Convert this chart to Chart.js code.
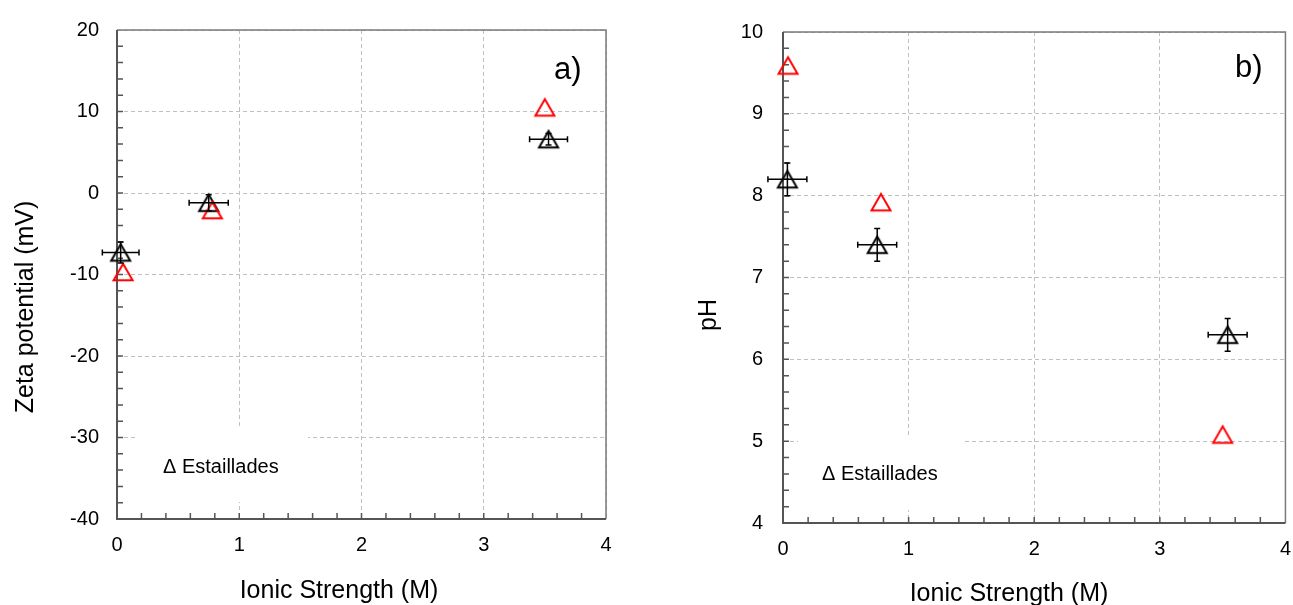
<!DOCTYPE html>
<html><head><meta charset="utf-8">
<script src="https://cdn.jsdelivr.net/npm/chart.js@4.4.0/dist/chart.umd.min.js"></script>
<style>
html,body{margin:0;padding:0;background:#fff;width:1293px;height:605px;overflow:hidden;}
#ca{position:absolute;left:0;top:0;}
#cb{position:absolute;left:650px;top:0;}
</style></head><body>
<canvas id="ca" width="650" height="605"></canvas>
<canvas id="cb" width="655" height="605"></canvas>
<script>
// ---- Data (a) Zeta potential vs ionic strength ----
const zetaBlackX    = [0.03, 0.75, 3.53];
const zetaBlackY    = [-7.3, -1.2, 6.6];
const zetaBlackXErr = [0.15, 0.16, 0.155];
const zetaBlackYErr = [1.3, 1.0, 0.7];
const zetaRedX      = [0.05, 0.78, 3.50];
const zetaRedY      = [-9.7, -2.1, 10.5];
// ---- Data (b) pH vs ionic strength ----
const phBlackX    = [0.035, 0.75, 3.54];
const phBlackY    = [8.2, 7.4, 6.3];
const phBlackXErr = [0.155, 0.155, 0.155];
const phBlackYErr = [0.2, 0.2, 0.2];
const phRedX      = [0.04, 0.78, 3.50];
const phRedY      = [9.59, 7.92, 5.08];
// ---- Axis ticks ----
const xTicksRange = [0, 4, 1];
const zetaTicksRange = [-40, 20, 10];
const phTicksRange = [4, 10, 1];
const legendText = "Δ Estaillades";

const FONT = '"Liberation Sans", Arial, sans-serif';

function triMarker(color){
  const s = 19, h = s*Math.sqrt(3)/2, lw = 2;
  const c = document.createElement('canvas');
  c.width = 26; c.height = 24;
  const g = c.getContext('2d');
  const cx = c.width/2, cy = c.height/2;
  g.strokeStyle = color; g.lineWidth = lw; g.lineJoin = 'miter';
  g.beginPath();
  g.moveTo(cx, cy - h/2);
  g.lineTo(cx + s/2, cy + h/2);
  g.lineTo(cx - s/2, cy + h/2);
  g.closePath(); g.stroke();
  return c;
}
const blackTri = triMarker('#000000');
const redTri = triMarker('#ff0000');

function pts(xs, ys){ return xs.map((x,i)=>({x:x, y:ys[i]})); }

const decorPlugin = {
  id: 'decor',
  beforeDatasetsDraw(chart, args, o){
    const ctx = chart.ctx, a = chart.chartArea;
    ctx.save();
    ctx.fillStyle = '#ffffff';
    ctx.fillRect(o.legend.x0, o.legend.y0, o.legend.x1 - o.legend.x0, o.legend.y1 - o.legend.y0);
    ctx.fillStyle = '#000';
    ctx.font = '20px ' + FONT;
    ctx.textBaseline = 'middle'; ctx.textAlign = 'left';
    ctx.fillText(legendText, o.legend.tx, o.legend.ty);
    ctx.lineWidth = 1.5; ctx.strokeStyle = '#7a7a7a';
    ctx.beginPath();
    ctx.moveTo(a.left, a.top); ctx.lineTo(a.right, a.top); ctx.lineTo(a.right, a.bottom);
    ctx.stroke();
    ctx.lineWidth = 2; ctx.strokeStyle = '#555555';
    ctx.beginPath();
    ctx.moveTo(a.left, a.top); ctx.lineTo(a.left, a.bottom); ctx.lineTo(a.right, a.bottom);
    ctx.stroke();
    const xs = chart.scales.x, ys = chart.scales.y;
    ctx.lineWidth = 1.5; ctx.strokeStyle = '#555555';
    ctx.beginPath();
    const nx = Math.round((xs.max - xs.min)/o.xMinor);
    for (let i = 1; i < nx; i++){
      const px = xs.getPixelForValue(xs.min + i*o.xMinor);
      ctx.moveTo(px, a.bottom); ctx.lineTo(px, a.bottom - 6);
    }
    const ny = Math.round((ys.max - ys.min)/o.yMinor);
    for (let i = 1; i < ny; i++){
      const py = ys.getPixelForValue(ys.min + i*o.yMinor);
      ctx.moveTo(a.left, py); ctx.lineTo(a.left + 6, py);
    }
    ctx.stroke();
    ctx.restore();
  },
  afterDatasetsDraw(chart, args, o){
    const ctx = chart.ctx;
    const xs = chart.scales.x, ys = chart.scales.y;
    ctx.save();
    ctx.strokeStyle = '#000'; ctx.lineWidth = 1.5;
    ctx.beginPath();
    o.err.x.forEach((xv, i) => {
      const yv = o.err.y[i];
      const px = xs.getPixelForValue(xv), py = ys.getPixelForValue(yv);
      const xl = xs.getPixelForValue(xv - o.err.xe[i]), xr = xs.getPixelForValue(xv + o.err.xe[i]);
      const yt = ys.getPixelForValue(yv + o.err.ye[i]), yb = ys.getPixelForValue(yv - o.err.ye[i]);
      ctx.moveTo(xl, py); ctx.lineTo(xr, py);
      ctx.moveTo(xl, py - 3); ctx.lineTo(xl, py + 3);
      ctx.moveTo(xr, py - 3); ctx.lineTo(xr, py + 3);
      ctx.moveTo(px, yt); ctx.lineTo(px, yb);
      ctx.moveTo(px - 3, yt); ctx.lineTo(px + 3, yt);
      ctx.moveTo(px - 3, yb); ctx.lineTo(px + 3, yb);
    });
    ctx.stroke();
    ctx.restore();
  },
  afterDraw(chart, args, o){
    const ctx = chart.ctx;
    ctx.save();
    ctx.fillStyle = '#000';
    ctx.font = '25px ' + FONT;
    ctx.textBaseline = 'alphabetic'; ctx.textAlign = 'center';
    ctx.fillText(o.xTitle.text, o.xTitle.x, o.xTitle.y);
    ctx.save();
    ctx.translate(o.yTitle.x, o.yTitle.y);
    ctx.rotate(-Math.PI/2);
    ctx.fillText(o.yTitle.text, 0, 0);
    ctx.restore();
    ctx.font = '31px ' + FONT;
    ctx.textAlign = 'left';
    ctx.fillText(o.panel.text, o.panel.x, o.panel.y);
    ctx.restore();
  }
};

function makeChart(id, cfg){
  return new Chart(document.getElementById(id), {
    type: 'scatter',
    data: {
      datasets: [
        { data: pts(cfg.redX, cfg.redY), pointStyle: redTri, pointRadius: 10, clip: false, showLine: false },
        { data: pts(cfg.blackX, cfg.blackY), pointStyle: blackTri, pointRadius: 10, clip: false, showLine: false }
      ]
    },
    options: {
      responsive: false, animation: false, devicePixelRatio: 1,
      layout: { padding: cfg.padding },
      plugins: {
        legend: { display: false }, tooltip: { enabled: false },
        decor: cfg.decor
      },
      scales: {
        x: {
          type: 'linear', min: xTicksRange[0], max: xTicksRange[1],
          ticks: { stepSize: xTicksRange[2], font: { size: 20, family: FONT }, color: '#000', padding: 14 },
          grid: { color: '#c0c0c0', lineWidth: 1, drawTicks: false },
          border: { display: false, dash: [4, 3] },
          afterFit: s => { s.height = cfg.xAxisH; }
        },
        y: {
          type: 'linear', min: cfg.yRange[0], max: cfg.yRange[1],
          ticks: { stepSize: cfg.yRange[2], font: { size: 20, family: FONT }, color: '#000', padding: cfg.yPad },
          grid: { color: '#c0c0c0', lineWidth: 1, drawTicks: false },
          border: { display: false, dash: [4, 3] },
          afterFit: s => { s.width = cfg.yAxisW; }
        }
      }
    },
    plugins: [decorPlugin]
  });
}

makeChart('ca', {
  redX: zetaRedX, redY: zetaRedY, blackX: zetaBlackX, blackY: zetaBlackY,
  yRange: zetaTicksRange, yPad: 18,
  padding: { left: 0, top: 26, right: 44, bottom: 0 },
  xAxisH: 86, yAxisW: 117,
  decor: {
    xMinor: 0.2, yMinor: 2,
    legend: { x0: 135, y0: 428, x1: 308, y1: 502, tx: 163, ty: 467 },
    err: { x: zetaBlackX, y: zetaBlackY, xe: zetaBlackXErr, ye: zetaBlackYErr },
    xTitle: { text: 'Ionic Strength (M)', x: 339, y: 598 },
    yTitle: { text: 'Zeta potential (mV)', x: 33, y: 307 },
    panel: { text: 'a)', x: 554, y: 79 }
  }
});

makeChart('cb', {
  redX: phRedX, redY: phRedY, blackX: phBlackX, blackY: phBlackY,
  yRange: phTicksRange, yPad: 20,
  padding: { left: 0, top: 29, right: 8, bottom: 0 },
  xAxisH: 82, yAxisW: 133,
  decor: {
    xMinor: 0.2, yMinor: 0.2,
    legend: { x0: 148, y0: 437, x1: 315, y1: 510, tx: 172, ty: 474 },
    err: { x: phBlackX, y: phBlackY, xe: phBlackXErr, ye: phBlackYErr },
    xTitle: { text: 'Ionic Strength (M)', x: 359, y: 601 },
    yTitle: { text: 'pH', x: 66, y: 315 },
    panel: { text: 'b)', x: 585, y: 77 }
  }
});
</script>
</body></html>
